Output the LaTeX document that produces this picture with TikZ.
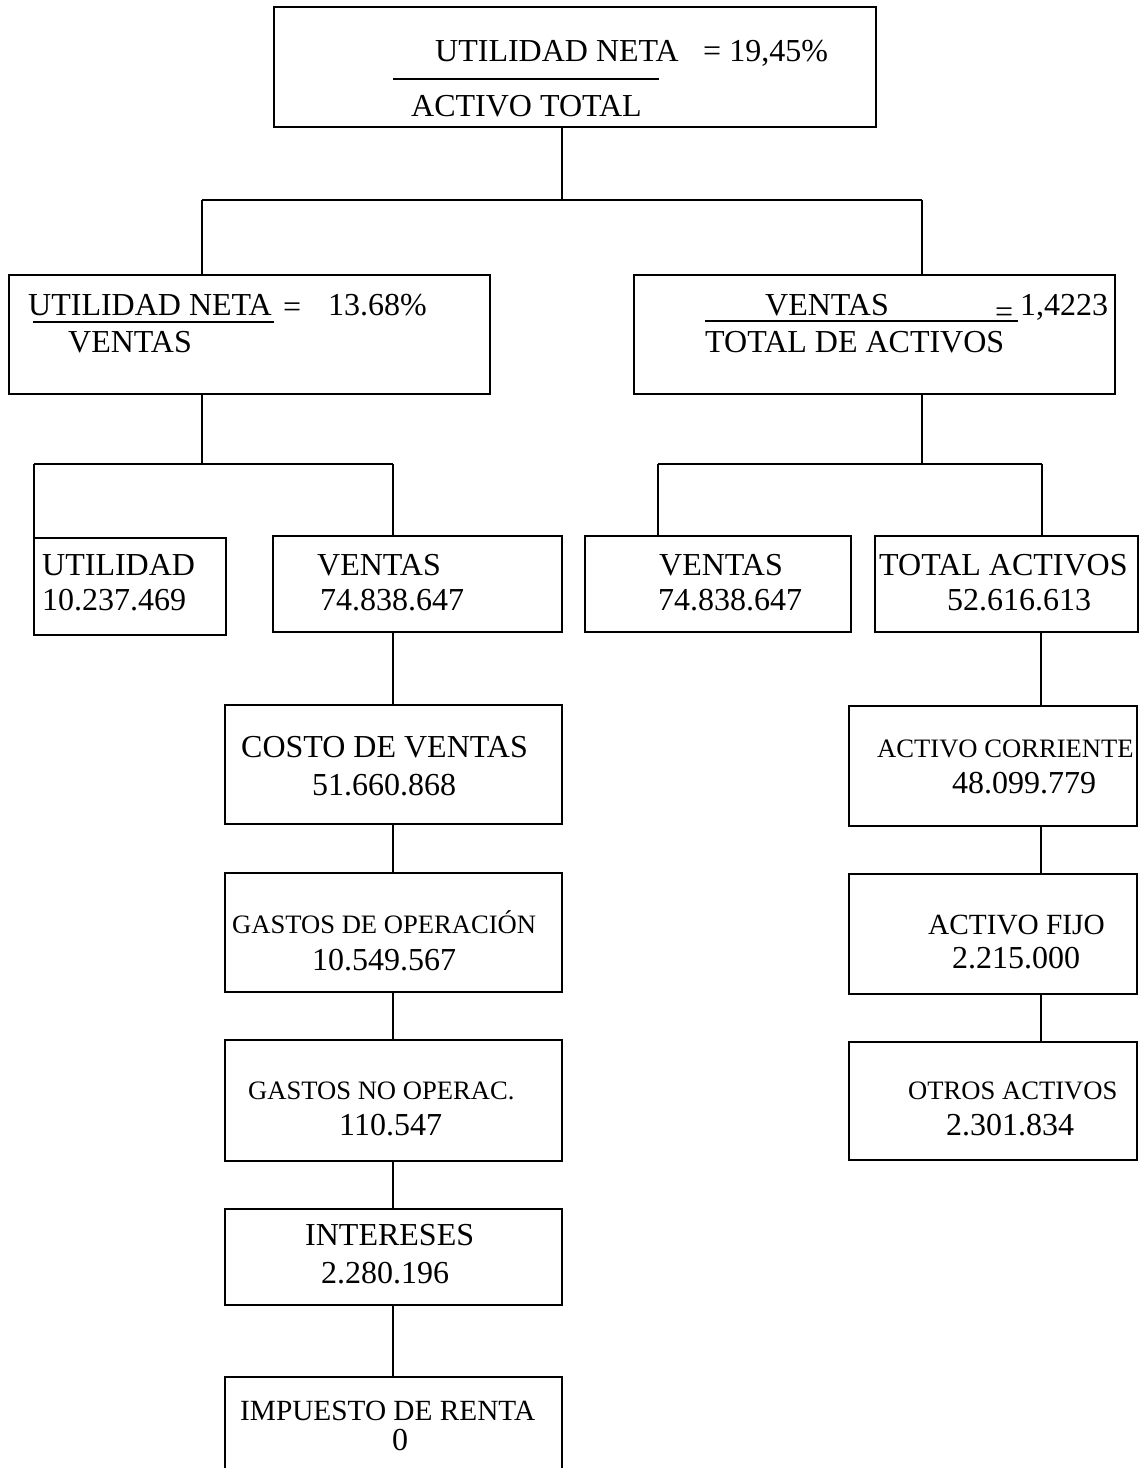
\documentclass[tikz,border=0pt]{standalone}
\usepackage{fontspec}
\setmainfont{Liberation Serif}
\begin{document}
\begin{tikzpicture}[x=1pt,y=-1pt,
  box/.style={draw, line width=1.6pt, inner sep=0pt, outer sep=0pt, rectangle, anchor=north west},
  wire/.style={line width=1.3pt},
  big/.style={font=\fontsize{32}{32}\selectfont, inner sep=0pt, anchor=base west},
  mid/.style={font=\fontsize{29.3}{29.3}\selectfont, inner sep=0pt, anchor=base west},
  small/.style={font=\fontsize{26.6}{26.6}\selectfont, inner sep=0pt, anchor=base west},
]
\useasboundingbox (0,0) rectangle (1142,1468);
\clip (0,0) rectangle (1142,1468);
\fill[white] (0,0) rectangle (1142,1468);

% boxes
\node[box, minimum width=602pt, minimum height=120pt] (top) at (274,7) {};
\node[box, minimum width=481pt, minimum height=119pt] (L) at (9,275) {};
\node[box, minimum width=481pt, minimum height=119pt] (R) at (634,275) {};
\node[box, minimum width=192pt, minimum height=97pt] (util) at (34,538) {};
\node[box, minimum width=289pt, minimum height=96pt] (ventasL) at (273,536) {};
\node[box, minimum width=266pt, minimum height=96pt] (ventasR) at (585,536) {};
\node[box, minimum width=263pt, minimum height=96pt] (totact) at (875,536) {};
\node[box, minimum width=337pt, minimum height=119pt] (costo) at (225,705) {};
\node[box, minimum width=337pt, minimum height=119pt] (gop) at (225,873) {};
\node[box, minimum width=337pt, minimum height=121pt] (gnop) at (225,1040) {};
\node[box, minimum width=337pt, minimum height=96pt] (inter) at (225,1209) {};
\node[box, minimum width=337pt, minimum height=130pt] (imp) at (225,1377) {};
\node[box, minimum width=288pt, minimum height=120pt] (acorr) at (849,706) {};
\node[box, minimum width=288pt, minimum height=120pt] (afijo) at (849,874) {};
\node[box, minimum width=288pt, minimum height=118pt] (otros) at (849,1042) {};

% connectors
\coordinate (a1) at (562,200);
\coordinate (a2) at (202,200);
\coordinate (a3) at (922,200);
\draw[wire] (top.south -| a1) -- (a1);
\draw[wire] (a2) -- (a3);
\draw[wire] (a2) -- (L.north -| a2);
\draw[wire] (a3) -- (R.north -| a3);

\coordinate (b1) at (202,464);
\coordinate (b2) at (34,464);
\coordinate (b3) at (393,464);
\draw[wire] (L.south -| b1) -- (b1);
\draw[wire] (b2) -- (b3);
\draw[wire] (b2) -- (util.north -| b2);
\draw[wire] (b3) -- (ventasL.north -| b3);

\coordinate (c1) at (922,464);
\coordinate (c2) at (658,464);
\coordinate (c3) at (1042,464);
\draw[wire] (R.south -| c1) -- (c1);
\draw[wire] (c2) -- (c3);
\draw[wire] (c2) -- (ventasR.north -| c2);
\draw[wire] (c3) -- (totact.north -| c3);

\coordinate (d) at (393,0);
\draw[wire] (ventasL.south -| d) -- (costo.north -| d);
\draw[wire] (costo.south -| d) -- (gop.north -| d);
\draw[wire] (gop.south -| d) -- (gnop.north -| d);
\draw[wire] (gnop.south -| d) -- (inter.north -| d);
\draw[wire] (inter.south -| d) -- (imp.north -| d);

\coordinate (e) at (1041,0);
\draw[wire] (totact.south -| e) -- (acorr.north -| e);
\draw[wire] (acorr.south -| e) -- (afijo.north -| e);
\draw[wire] (afijo.south -| e) -- (otros.north -| e);

% top box text
\node[big] (t1) at (435,61) {UTILIDAD NETA};
\node[big] (t2) at (703,61) {= 19,45\%};
\draw[line width=1.3pt] (393,79) -- (659,79);
\node[big] (t3) at (411,116) {ACTIVO TOTAL};

% left ratio box
\node[big] (l1) at (28,315) {UTILIDAD NETA};
\draw[line width=1.3pt] (33,322) -- (274,322);
\node[big] (l2) at (283,317) {=};
\node[big] (l3) at (328,315) {13.68\%};
\node[big] (l4) at (68,352) {VENTAS};

% right ratio box
\node[big] (r1) at (765,315) {VENTAS};
\draw[line width=1.3pt] (705,321) -- (1018,321);
\node[big] (r2) at (995,322) {=};
\node[big] (r3) at (1020,315) {1,4223};
\node[big] (r4) at (705,352) {TOTAL DE ACTIVOS};

% level 3
\node[big] (u1) at (42,575) {UTILIDAD};
\node[big] (u2) at (42,610) {10.237.469};
\node[big] (v1) at (317,575) {VENTAS};
\node[big] (v2) at (320,610) {74.838.647};
\node[big] (w1) at (659,575) {VENTAS};
\node[big] (w2) at (658,610) {74.838.647};
\node[big] (x1) at (879,575) {TOTAL ACTIVOS};
\node[big] (x2) at (947,610) {52.616.613};

% left column
\node[big] (k1) at (241,757) {COSTO DE VENTAS};
\node[big] (k2) at (312,795) {51.660.868};
\node[small] (g1) at (232,933) {GASTOS DE OPERACIÓN};
\node[big] (g2) at (312,970) {10.549.567};
\node[small] (n1) at (248,1099) {GASTOS NO OPERAC.};
\node[big] (n2) at (339,1135) {110.547};
\node[big] (i1) at (305,1245) {INTERESES};
\node[big] (i2) at (321,1283) {2.280.196};
\node[mid] (p1) at (240,1420) {IMPUESTO DE RENTA};
\node[big] (p2) at (392,1450) {0};

% right column
\node[small] (q1) at (877,757) {ACTIVO CORRIENTE};
\node[big] (q2) at (952,793) {48.099.779};
\node[mid] (f1) at (928,934) {ACTIVO FIJO};
\node[big] (f2) at (952,968) {2.215.000};
\node[small] (o1) at (908,1099) {OTROS ACTIVOS};
\node[big] (o2) at (946,1135) {2.301.834};
\end{tikzpicture}
\end{document}
